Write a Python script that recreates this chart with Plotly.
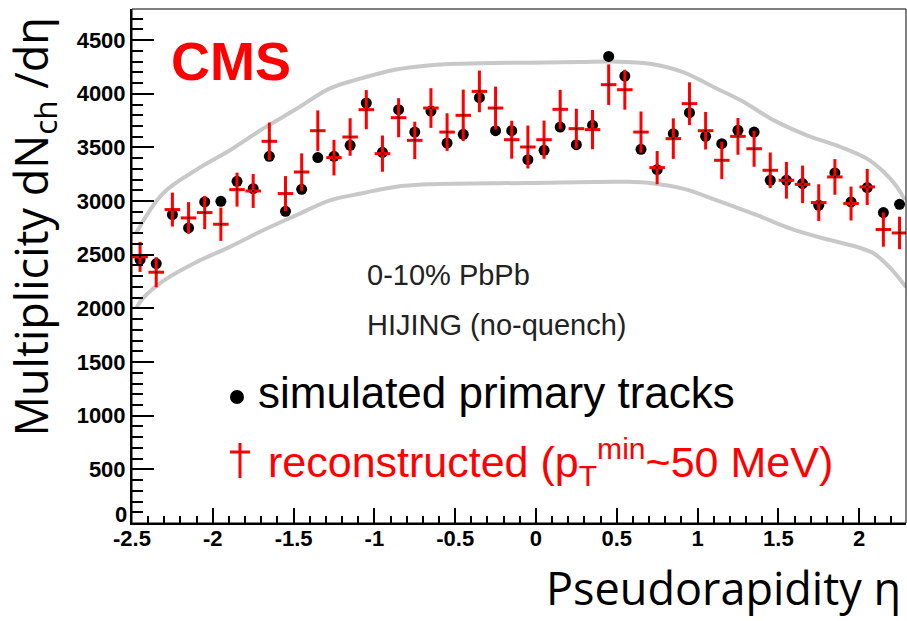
import plotly.graph_objects as go

# Pseudorapidity bin centres (bin width 0.1)
eta = [round(-2.45 + 0.1 * i, 2) for i in range(48)]

# Simulated primary tracks, dN_ch/deta
sim_vals = [2455, 2418, 2874, 2750, 2992, 2998, 3184, 3116, 3417, 2905,
            3110, 3405, 3417, 3520, 3914, 3454, 3852, 3643, 3839, 3541,
            3622, 3964, 3656, 3656, 3386, 3473, 3690, 3526, 3706, 4348,
            4165, 3482, 3293, 3628, 3824, 3603, 3535, 3659, 3643, 3194,
            3194, 3163, 2961, 3262, 2992, 3126, 2893, 2970]

# Reconstructed tracks (pT_min ~ 50 MeV) and their errors
reco_vals = [2480, 2337, 2921, 2843, 2893, 2784, 3107, 3094, 3557, 3070,
             3271, 3656, 3405, 3597, 3852, 3442, 3777, 3566, 3867, 3643,
             3799, 4022, 3867, 3572, 3504, 3572, 3855, 3675, 3666, 4085,
             4038, 3643, 3312, 3582, 3908, 3656, 3380, 3603, 3488, 3287,
             3194, 3156, 2986, 3225, 2977, 3132, 2735, 2703]
reco_err = [140, 140, 158, 147, 155, 155, 158, 158, 175, 163,
            174, 189, 166, 175, 182, 169, 182, 174, 185, 175,
            240, 194, 200, 177, 200, 178, 182, 186, 183, 189,
            186, 192, 155, 189, 199, 175, 174, 171, 168, 166,
            171, 175, 171, 166, 158, 168, 160, 152]
half_bin = [0.048] * len(eta)

# Systematic envelope (upper and lower bands)
env_up_eta = [-2.475, -2.308, -2.100, -1.894, -1.689, -1.481, -1.275, -1.083,
              -0.874, -0.668, -0.464, -0.050, 0.272, 0.476, 0.705, 0.910,
              1.120, 1.267, 1.473, 1.677, 1.886, 2.048, 2.153, 2.234, 2.283]
env_up_val = [2700, 3072, 3293, 3473, 3675, 3860, 4050, 4143,
              4224, 4264, 4280, 4290, 4295, 4300, 4280, 4202,
              4047, 3939, 3752, 3613, 3504, 3396, 3271, 3132, 3010]
env_lo_eta = [-2.475, -2.432, -2.308, -2.100, -1.894, -1.689, -1.481, -1.275,
              -1.083, -0.874, -0.668, -0.050, 0.557, 0.705, 0.910, 1.120,
              1.368, 1.576, 1.782, 1.986, 2.092, 2.195, 2.265, 2.290]
env_lo_val = [2000, 2095, 2255, 2433, 2573, 2728, 2870, 3007,
              3070, 3132, 3156, 3169, 3180, 3169, 3116, 3007,
              2868, 2744, 2651, 2573, 2511, 2372, 2247, 2200]

# Axis ticks (plain hyphen minus signs); the y-axis zero label is placed separately
x_tickvals = [-2.5, -2.0, -1.5, -1.0, -0.5, 0.0, 0.5, 1.0, 1.5, 2.0]
x_ticktext = ["-2.5", "-2", "-1.5", "-1", "-0.5", "0", "0.5", "1", "1.5", "2"]
y_tickvals = [500, 1000, 1500, 2000, 2500, 3000, 3500, 4000, 4500]
y_ticktext = ["500", "1000", "1500", "2000", "2500", "3000", "3500", "4000", "4500"]

X_RANGE = [-2.5, 2.29]
Y_RANGE = [0, 4790]

W, H = 907, 621
L, R, T, B = 132, 906, 9, 523


def px(x):
    return (x - L) / (R - L)


def py(y):
    return (B - y) / (B - T)


GRAY = "#c8c8c8"
RED = "#ff0000"
TICKFONT = dict(family="Liberation Sans, Arial", size=22, color="black", weight="bold")
TITLEFONT = dict(family="Open Sans", size=45, color="black")

fig = go.Figure()

for ex, ev in ((env_up_eta, env_up_val), (env_lo_eta, env_lo_val)):
    fig.add_trace(go.Scatter(
        x=ex, y=ev, mode="lines",
        line=dict(color=GRAY, width=4, shape="spline", smoothing=1.0),
        hoverinfo="skip", showlegend=False,
    ))

fig.add_trace(go.Scatter(
    x=eta, y=sim_vals, mode="markers",
    marker=dict(color="black", size=11, symbol="circle"),
    name="simulated primary tracks", showlegend=False,
))

fig.add_trace(go.Scatter(
    x=eta, y=reco_vals, mode="markers",
    marker=dict(color="black", size=2, symbol="square"),
    error_y=dict(type="data", array=reco_err, color=RED, thickness=3, width=0),
    error_x=dict(type="data", array=half_bin, color=RED, thickness=3, width=0),
    name="reconstructed", showlegend=False,
))

annotations = [
    dict(text="0", x=px(129), y=py(514), xanchor="right", yanchor="middle", font=TICKFONT),
    dict(text="CMS", x=px(231), y=py(61), xanchor="center", yanchor="middle",
         font=dict(family="Liberation Sans, Arial", size=54, color=RED, weight="bold")),
    dict(text="0-10% PbPb", x=px(365), y=py(275), xanchor="left", yanchor="middle",
         font=dict(family="Liberation Sans, Arial", size=29, color="#222222")),
    dict(text="HIJING (no-quench)", x=px(365), y=py(325), xanchor="left", yanchor="middle",
         font=dict(family="Liberation Sans, Arial", size=29, color="#222222")),
    dict(text="simulated primary tracks", x=px(256), y=py(392), xanchor="left", yanchor="middle",
         font=dict(family="Liberation Sans, Arial", size=44, color="black")),
    dict(text="reconstructed (p<sub>T</sub><sup>min</sup>~50 MeV)", x=px(266), y=py(462),
         xanchor="left", yanchor="middle",
         font=dict(family="Liberation Sans, Arial", size=43, color=RED)),
    dict(text="Multiplicity dN<sub>ch</sub> /dη", x=px(33), y=py(16), textangle=-90,
         xanchor="center", yanchor="top", font=TITLEFONT),
    dict(text="Pseudorapidity η", x=px(903), y=py(620), xanchor="right", yanchor="bottom",
         font=TITLEFONT),
]
for a in annotations:
    a.update(xref="paper", yref="paper", showarrow=False)

shapes = [
    # frame
    dict(type="rect", xref="paper", yref="paper", x0=0, x1=1, y0=0, y1=1,
         line=dict(color="black", width=1)),
    # legend symbols
    dict(type="circle", xref="paper", yref="paper",
         x0=px(230), x1=px(244), y0=py(404), y1=py(390),
         fillcolor="black", line=dict(width=0)),
    dict(type="line", xref="paper", yref="paper",
         x0=px(240), x1=px(240), y0=py(443), y1=py(478),
         line=dict(color=RED, width=3)),
    dict(type="line", xref="paper", yref="paper",
         x0=px(230), x1=px(250), y0=py(452), y1=py(452),
         line=dict(color=RED, width=3)),
]

fig.update_layout(
    width=W, height=H,
    margin=dict(l=L, r=W - R, t=T, b=H - B, pad=0),
    paper_bgcolor="white", plot_bgcolor="white",
    showlegend=False,
    annotations=annotations,
    shapes=shapes,
    xaxis=dict(
        range=X_RANGE, showgrid=False, zeroline=False,
        showline=True, linecolor="black", linewidth=2,
        ticks="inside", ticklen=15, tickwidth=1.5, tickcolor="black",
        tickmode="array", tickvals=x_tickvals, ticktext=x_ticktext,
        tickfont=TICKFONT, ticklabelstandoff=-5,
        minor=dict(ticks="inside", ticklen=7, tickwidth=1.5, tickcolor="black",
                   dtick=0.1, tick0=-2.5, showgrid=False),
    ),
    yaxis=dict(
        range=Y_RANGE, showgrid=False, zeroline=False,
        showline=True, linecolor="black", linewidth=2,
        ticks="inside", ticklen=22, tickwidth=1.5, tickcolor="black",
        tickmode="array", tickvals=y_tickvals, ticktext=y_ticktext,
        tickfont=TICKFONT, ticklabelstandoff=0,
        minor=dict(ticks="inside", ticklen=11, tickwidth=1.5, tickcolor="black",
                   dtick=100, tick0=0, showgrid=False),
    ),
)

fig.write_html("out.html")
